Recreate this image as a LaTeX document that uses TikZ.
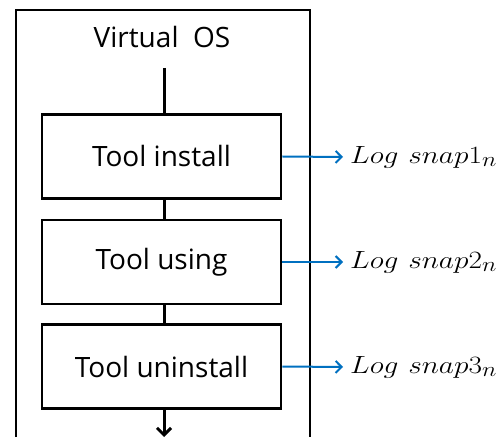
\documentclass[tikz,border=0pt]{standalone}
\usepackage{fontspec}
\usepackage{graphicx}
\setsansfont{Open Sans}
\usetikzlibrary{arrows.meta}
\definecolor{officeblue}{RGB}{0,112,192}
\begin{document}
\begin{tikzpicture}[x=1pt,y=-1pt,
  stepbox/.style={draw=black,line width=2.6pt,minimum width=239pt,minimum height=84pt,inner sep=0pt,font=\sffamily\fontsize{28}{32}\selectfont},
  flow/.style={line width=3pt},
  logarrow/.style={draw=officeblue,line width=2pt,-{Straight Barb[length=6pt,width=12pt,line width=2pt]}},
  loglabel/.style={anchor=west,inner sep=0pt,font=\fontsize{28}{32}\selectfont}]
\useasboundingbox (0,0) rectangle (503,438);
\draw[line width=2pt] (16,437) -- (16,10) -- (310,10) -- (310,437);
\node[font=\sffamily\fontsize{28}{32}\selectfont,inner sep=0pt] (os) at (162,37) {Virtual\ \ OS};
\node[stepbox] (b1) at (161.5,156.5) {Tool install};
\node[stepbox] (b2) at (161.5,262) {Tool using};
\node[stepbox] (b3) at (161.5,366.5) {Tool uninstall};
\coordinate (top) at (164,68);
\coordinate (bot) at (164,437);
\draw[flow] (top) -- (b1.north -| top);
\draw[flow] (b1.south -| top) -- (b2.north -| top);
\draw[flow] (b2.south -| top) -- (b3.north -| top);
\draw[flow,-{Straight Barb[length=7pt,width=14pt,line width=3pt]}] (b3.south -| top) -- (bot);
\node[loglabel] (l1) at (350,157) {\scalebox{1.18}[1]{$Log\ snap1_n$}};
\node[loglabel] (l2) at (350,262) {\scalebox{1.18}[1]{$Log\ snap2_n$}};
\node[loglabel] (l3) at (350,367) {\scalebox{1.18}[1]{$Log\ snap3_n$}};
\draw[logarrow] (b1.east) -- ([xshift=-7pt]l1.west);
\draw[logarrow] (b2.east) -- ([xshift=-7pt]l2.west);
\draw[logarrow] (b3.east) -- ([xshift=-7pt]l3.west);
\end{tikzpicture}
\end{document}
